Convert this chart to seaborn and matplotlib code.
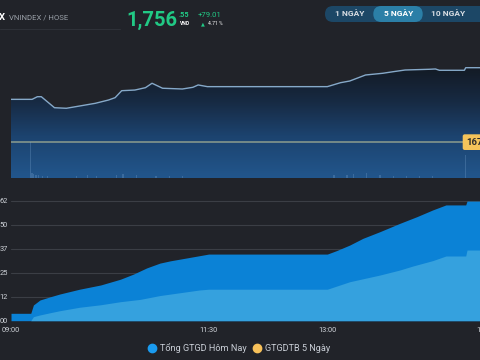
import numpy as np
import matplotlib
matplotlib.use("Agg")
import matplotlib.pyplot as plt
import seaborn as sns
from matplotlib.colors import LinearSegmentedColormap
from matplotlib.patches import PathPatch, FancyBboxPatch
from matplotlib.lines import Line2D

# ---------------- data ----------------
index_name = "VNINDEX / HOSE"
last_price = "1,756"
last_decimals = ".55"
change_text = "+79.01"
change_pct_text = "4.71 %"
ref_price = 1677.54
range_buttons = ["1 NGÀY", "5 NGÀY", "10 NGÀY"]

price_times = ["09:00", "09:16", "09:20", "09:23", "09:33", "09:42", "09:52", "10:04",
               "10:14", "10:19", "10:24", "10:34", "10:42", "10:47", "10:55", "11:10",
               "11:18", "11:22", "11:29", "13:00", "13:10", "13:17", "13:29", "13:42",
               "13:50", "13:59", "14:18", "14:22", "14:25", "14:44", "14:45", "15:00"]
price_values = [1722.9, 1722.9, 1725.7, 1725.7, 1714.0, 1713.4, 1715.8, 1718.7,
                1722.2, 1724.7, 1732.1, 1732.8, 1735.3, 1740.0, 1734.7, 1733.9,
                1735.7, 1738.2, 1736.4, 1736.4, 1740.6, 1742.4, 1748.8, 1750.6,
                1752.3, 1754.1, 1754.9, 1755.2, 1753.8, 1753.8, 1756.55, 1756.55]

vol_times = ["09:15", "09:16", "09:17", "09:19", "09:21", "09:24", "09:28", "09:50",
             "09:58", "10:05", "10:20", "10:25", "10:35", "10:50", "11:00", "11:10",
             "13:05", "13:15", "13:20", "13:30", "13:40", "13:50", "14:00", "14:10",
             "14:20", "14:45"]
vol_values = [36, 5, 4, 3, 3, 2.5, 2, 2, 3, 2, 3, 4, 3, 2.5, 2, 2,
              3, 3, 4, 5, 3, 2.5, 2, 2, 2, 23]

total_times = ["09:00", "09:15", "09:17", "09:22", "09:30", "09:37", "09:52", "10:08",
               "10:23", "10:33", "10:43", "10:53", "11:01", "11:11", "11:30", "13:00",
               "13:07", "13:17", "13:27", "13:40", "13:55", "14:08", "14:20", "14:30",
               "14:45", "14:46", "15:00"]
total_values = [3.85, 3.85, 8.2, 10.8, 12.5, 13.9, 16.4, 18.6,
                21.6, 24.3, 27.5, 30.0, 31.2, 32.4, 34.7, 34.7,
                36.5, 39.4, 42.9, 46.4, 50.7, 54.2, 57.7, 60.3,
                60.3, 62.3, 62.3]

part_times = ["09:00", "09:15", "09:17", "09:22", "09:30", "09:37", "09:52", "10:08",
              "10:23", "10:38", "10:53", "11:23", "11:30", "13:00", "13:17", "13:40",
              "13:55", "14:05", "14:20", "14:30", "14:45", "14:46", "15:00"]
part_values = [0, 0, 2.1, 3.0, 4.2, 5.2, 7.0, 8.3,
               9.9, 11.1, 13.1, 16.0, 16.4, 16.4, 20.3, 23.8,
               26.4, 28.5, 31.3, 33.7, 33.7, 36.8, 36.8]

y_ticks = [0, 12.5, 25, 37.5, 50, 62.5]
y_tick_labels = ["00", "12", "25", "37", "50", "62"]
x_ticks = ["09:00", "11:30", "13:00", "15:00"]
legend_labels = ["Tổng GTGD Hôm Nay", "GTGDTB 5 Ngày"]


def to_min(s):
    h, m = s.split(":")
    return (int(h) - 9) * 60 + int(m)


# ---------------- style ----------------
BG = "#212329"
sns.set_theme(style="dark", rc={"axes.facecolor": BG, "figure.facecolor": BG,
                                "savefig.facecolor": BG})
plt.rcParams["font.family"] = ["Roboto", "DejaVu Sans"]

fig = plt.figure(figsize=(4.8, 3.6), dpi=100)
fig.patch.set_facecolor(BG)

PX_PER_MIN = 1.318
X_RIGHT_PX = 500
xmax = (X_RIGHT_PX - 11) / PX_PER_MIN
PX_PER_PT = 1.0634  # price units per pixel

# ---------------- upper chart ----------------
up_bottom_px, up_top_px = 178.3, 40.0
ax_up = fig.add_axes([11 / 480, (360 - up_bottom_px) / 360,
                      (X_RIGHT_PX - 11) / 480, (up_bottom_px - up_top_px) / 360])
ymin_up = ref_price - (up_bottom_px - 142) * PX_PER_PT
ymax_up = ref_price + (142 - up_top_px) * PX_PER_PT

pt = np.array([to_min(s) for s in price_times], dtype=float)
pv = np.array(price_values)

cmap = LinearSegmentedColormap.from_list(
    "grad", [(0.0, "#22568c"), (0.3, "#1c436f"), (0.55, "#172a43"),
             (0.8, "#131a24"), (1.0, "#12151b")])
grad = np.linspace(1, 0, 256).reshape(-1, 1)
im = ax_up.imshow(grad, extent=[0, xmax, ymin_up, ymax_up], aspect="auto",
                  cmap=cmap, vmin=0, vmax=1, origin="upper", zorder=1)
coll = ax_up.fill_between(pt, pv, ymin_up, color="none", lw=0)
patch = PathPatch(coll.get_paths()[0], transform=ax_up.transData,
                  facecolor="none", edgecolor="none")
ax_up.add_patch(patch)
im.set_clip_path(patch)

ax_up.axhline(ref_price, color="#84968c", lw=1.2, zorder=4)
sns.lineplot(x=pt, y=pv, ax=ax_up, color="#86a9c9", lw=1.0, zorder=5)
ax_up.set_xlim(0, xmax)
ax_up.set_ylim(ymin_up, ymax_up)
ax_up.axis("off")

ax_vol = fig.add_axes(ax_up.get_position(), sharex=ax_up)
ax_vol.patch.set_alpha(0)
ax_vol.bar([to_min(s) for s in vol_times], vol_values, width=0.9,
           color="#7fa9d3", alpha=0.28, lw=0, zorder=2)
ax_vol.set_ylim(0, up_bottom_px - up_top_px)
ax_vol.set_xlim(0, xmax)
ax_vol.axis("off")

# ---------------- lower chart ----------------
ax_b = fig.add_axes([11 / 480, (360 - 320.7) / 360,
                     (X_RIGHT_PX - 11) / 480, 64 * 1.92 / 360])
ax_b.set_facecolor(BG)
ax_b.fill_between([to_min(s) for s in total_times], total_values, 0,
                  color="#0b82d6", lw=0, zorder=2)
ax_b.fill_between([to_min(s) for s in part_times], part_values, 0,
                  color="#35a1de", lw=0, zorder=3)
ax_b.set_xlim(0, xmax)
ax_b.set_ylim(0, 64)
ax_b.set_axisbelow(True)
ax_b.yaxis.grid(True, color="#3b3e45", lw=0.8)
ax_b.xaxis.grid(False)
for sp in ax_b.spines.values():
    sp.set_visible(False)
ax_b.set_yticks(y_ticks)
ax_b.set_yticklabels(y_tick_labels)
ax_b.set_xticks([to_min(s) for s in x_ticks])
ax_b.set_xticklabels(x_ticks)
ax_b.tick_params(axis="y", length=0, pad=2.5, labelsize=5.3, labelcolor="#d0d4da")
ax_b.tick_params(axis="x", length=0, pad=4.3, labelsize=5.3, labelcolor="#d0d4da")

handles = [Line2D([], [], marker="o", ls="", markersize=6, color="#1a9bf0"),
           Line2D([], [], marker="o", ls="", markersize=6, color="#f7c15a")]
fig.legend(handles, legend_labels, loc="center", bbox_to_anchor=(239 / 480, 1 - 348 / 360),
           ncol=2, frameon=False, fontsize=6.6, labelcolor="#c9ced6",
           handlelength=0.8, handletextpad=0.5, columnspacing=0.7)

# ---------------- overlay (header, labels) ----------------
ov = fig.add_axes([0, 0, 1, 1])
ov.set_xlim(0, 480)
ov.set_ylim(360, 0)
ov.axis("off")
ov.patch.set_alpha(0)

ov.plot([0, 120], [28.5, 28.5], color="#2e3138", lw=0.8)
ov.text(-1.5, 20, "X", color="white", fontsize=6.8, fontweight="bold", va="baseline")
ov.text(9, 20, index_name, color="#9aa0a8", fontsize=5.6, va="baseline")
GREEN = "#21c985"
ov.text(126, 26, last_price, color=GREEN, fontsize=14.5, fontweight="bold", va="baseline")
ov.text(179, 17.3, last_decimals, color=GREEN, fontsize=5.2, fontweight="bold", va="baseline")
ov.text(179.5, 25, "VND", color="white", fontsize=3.6, fontweight="bold", va="baseline")
ov.text(198, 17.3, change_text, color=GREEN, fontsize=5.6, va="baseline")
ov.text(202.5, 25, "▲", color=GREEN, fontsize=3.6, ha="center", va="baseline",
        family=["DejaVu Sans"])
ov.text(208, 25, change_pct_text, color="white", fontsize=3.6, va="baseline")

# range buttons
ov.add_patch(FancyBboxPatch((325, 6), 170, 16, boxstyle="round,pad=0,rounding_size=8",
                            fc="#1c4766", ec="none"))
ov.add_patch(FancyBboxPatch((373.3, 6), 49.4, 16, boxstyle="round,pad=0,rounding_size=8",
                            fc="#2b7fa7", ec="none"))
for cx, lab, col in zip([349.3, 398.3, 448.3], range_buttons,
                        ["#d8dde3", "white", "#d8dde3"]):
    ov.text(cx, 16.2, lab, color=col, fontsize=6, fontweight="bold",
            ha="center", va="baseline")

# reference price label
ov.add_patch(FancyBboxPatch((462.7, 134.3), 40, 15.7, boxstyle="round,pad=0,rounding_size=2",
                            fc="#f4c35a", ec="none"))
ov.text(466, 145.2, f"{ref_price:.2f}", color="#2a2a2a", fontsize=6.8,
        fontweight="bold", va="baseline")

fig.savefig("out.png", dpi=100, facecolor=BG)
